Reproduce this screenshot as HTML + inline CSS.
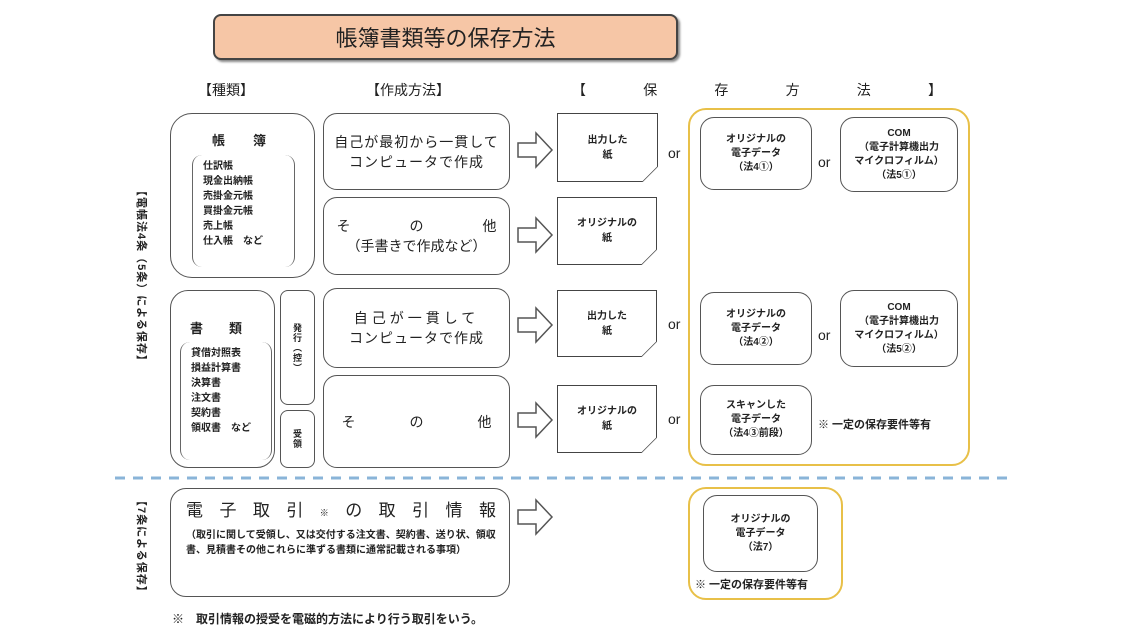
<!DOCTYPE html>
<html><head><meta charset="utf-8"><style>
*{margin:0;padding:0;box-sizing:border-box}
body{width:1128px;height:640px;background:#fff;position:relative;overflow:hidden;font-family:"Liberation Sans","Noto Sans CJK JP",sans-serif;color:#222}
.a{position:absolute}
.b{position:absolute;border:1.5px solid #555;border-radius:14px;background:#fff}
.c{display:flex;align-items:center;justify-content:center;text-align:center;flex-direction:column}
.p{position:absolute;border:1.5px solid #444;background:#fff;font-size:10px;line-height:15px;font-weight:bold}
.p:after{content:"";position:absolute;right:-1px;bottom:-1px;width:16px;height:16px;background:linear-gradient(135deg,transparent 48%,#444 50%,#fff 54%)}
.s{font-size:10px;line-height:14px;font-weight:bold}
.or{position:absolute;font-size:14px}
.y{position:absolute;border:2.5px solid #e8c048;border-radius:18px}
.v{position:absolute;writing-mode:vertical-rl;font-size:11px;font-weight:bold;letter-spacing:1px}
.vs{text-orientation:sideways}
.list{position:absolute;border-left:1.5px solid #666;border-right:1.5px solid #666;border-radius:10px;font-size:10px;font-weight:bold;line-height:15px;padding:4px 10px}
</style></head><body>
<div class="a c" style="left:213px;top:14px;width:465px;height:46px;background:#f6c6a6;border:2px solid #444;border-radius:8px;font-size:22px;box-shadow:2px 2px 2px #888">帳簿書類等の保存方法</div>
<div class="a" style="left:198px;top:80px;font-size:14px">【種類】</div>
<div class="a" style="left:366px;top:80px;font-size:14px">【作成方法】</div>
<div class="a" style="left:572px;top:80px;font-size:14px;width:370px;display:flex;justify-content:space-between"><span>【</span><span>保</span><span>存</span><span>方</span><span>法</span><span>】</span></div>

<div class="v vs" style="left:134px;top:185px">【電帳法4条（5条）による保存】</div>
<div class="v vs" style="left:134px;top:495px">【7条による保存】</div>

<div class="b" style="left:170px;top:113px;width:145px;height:165px;border-radius:22px"></div>
<div class="a" style="left:212px;top:130px;font-size:13px;font-weight:bold;letter-spacing:28px">帳簿</div>
<div class="list" style="left:192px;top:155px;width:103px;height:112px">仕訳帳<br>現金出納帳<br>売掛金元帳<br>買掛金元帳<br>売上帳<br>仕入帳　など</div>

<div class="b" style="left:170px;top:290px;width:105px;height:178px;border-radius:18px"></div>
<div class="a" style="left:190px;top:318px;font-size:13px;font-weight:bold;letter-spacing:26px">書類</div>
<div class="list" style="left:180px;top:342px;width:92px;height:118px">貸借対照表<br>損益計算書<br>決算書<br>注文書<br>契約書<br>領収書　など</div>
<div class="b c" style="left:280px;top:290px;width:35px;height:115px;border-radius:8px"><div class="v" style="position:static;font-size:9px">発行（控）</div></div>
<div class="b c" style="left:280px;top:410px;width:35px;height:58px;border-radius:8px"><div class="v" style="position:static;font-size:9px">受領</div></div>

<div class="b c" style="left:323px;top:113px;width:187px;height:77px;font-size:14px;line-height:20px;letter-spacing:1px">自己が最初から一貫して<br>コンピュータで作成</div>
<div class="b c" style="left:323px;top:197px;width:187px;height:78px;font-size:14px;line-height:20px"><div style="width:160px;display:flex;justify-content:space-between"><span>そ</span><span>の</span><span>他</span></div>（手書きで作成など）</div>
<div class="b c" style="left:323px;top:288px;width:187px;height:80px;font-size:14px;line-height:20px;letter-spacing:4px">自己が一貫して<br><span style="letter-spacing:1px">コンピュータで作成</span></div>
<div class="b c" style="left:323px;top:375px;width:187px;height:93px;font-size:14px"><div style="width:150px;display:flex;justify-content:space-between"><span>そ</span><span>の</span><span>他</span></div></div>

<svg class="a" style="left:0;top:0" width="1128" height="640">
<g fill="#fff" stroke="#555" stroke-width="1.5">
<path d="M518 143h18v-10l16 17l-16 17v-10h-18z"/>
<path d="M518 228h18v-10l16 17l-16 17v-10h-18z"/>
<path d="M518 318h18v-10l16 17l-16 17v-10h-18z"/>
<path d="M518 413h18v-10l16 17l-16 17v-10h-18z"/>
<path d="M518 510h18v-10l16 17l-16 17v-10h-18z"/>
</g>
<line x1="115" y1="478" x2="1010" y2="478" stroke="#8ab4d8" stroke-width="3" stroke-dasharray="10 8"/>
</svg>

<div class="p c" style="left:557px;top:113px;width:101px;height:69px">出力した<br>紙</div>
<div class="p c" style="left:557px;top:197px;width:100px;height:68px">オリジナルの<br>紙</div>
<div class="p c" style="left:557px;top:290px;width:100px;height:67px">出力した<br>紙</div>
<div class="p c" style="left:557px;top:385px;width:100px;height:68px">オリジナルの<br>紙</div>
<div class="or" style="left:668px;top:145px">or</div>
<div class="or" style="left:668px;top:316px">or</div>
<div class="or" style="left:668px;top:411px">or</div>

<div class="y" style="left:688px;top:108px;width:282px;height:358px"></div>
<div class="b c s" style="left:700px;top:117px;width:112px;height:73px">オリジナルの<br>電子データ<br>（法4①）</div>
<div class="b c s" style="left:840px;top:117px;width:118px;height:75px">COM<br>（電子計算機出力<br>マイクロフィルム）<br>（法5①）</div>
<div class="or" style="left:818px;top:154px">or</div>
<div class="b c s" style="left:700px;top:292px;width:112px;height:73px">オリジナルの<br>電子データ<br>（法4②）</div>
<div class="b c s" style="left:840px;top:290px;width:118px;height:77px">COM<br>（電子計算機出力<br>マイクロフィルム）<br>（法5②）</div>
<div class="or" style="left:818px;top:327px">or</div>
<div class="b c s" style="left:700px;top:385px;width:112px;height:70px">スキャンした<br>電子データ<br>（法4③前段）</div>
<div class="a s" style="left:818px;top:418px;font-size:11px">※ 一定の保存要件等有</div>

<div class="b" style="left:170px;top:488px;width:340px;height:109px;border-radius:16px"></div>
<div class="a" style="left:186px;top:496px;font-size:17px;width:310px;display:flex;justify-content:space-between;align-items:baseline"><span>電</span><span>子</span><span>取</span><span>引</span><span style="font-size:9px">※</span><span>の</span><span>取</span><span>引</span><span>情</span><span>報</span></div>
<div class="a s" style="left:186px;top:528px;width:320px;line-height:15px">（取引に関して受領し、又は交付する注文書、契約書、送り状、領収書、見積書その他これらに準ずる書類に通常記載される事項）</div>

<div class="y" style="left:688px;top:487px;width:155px;height:113px"></div>
<div class="b c s" style="left:703px;top:495px;width:115px;height:77px">オリジナルの<br>電子データ<br>（法7）</div>
<div class="a s" style="left:695px;top:578px;font-size:11px">※ 一定の保存要件等有</div>

<div class="a" style="left:172px;top:610px;font-size:12px;font-weight:bold">※　取引情報の授受を電磁的方法により行う取引をいう。</div>
</body></html>
